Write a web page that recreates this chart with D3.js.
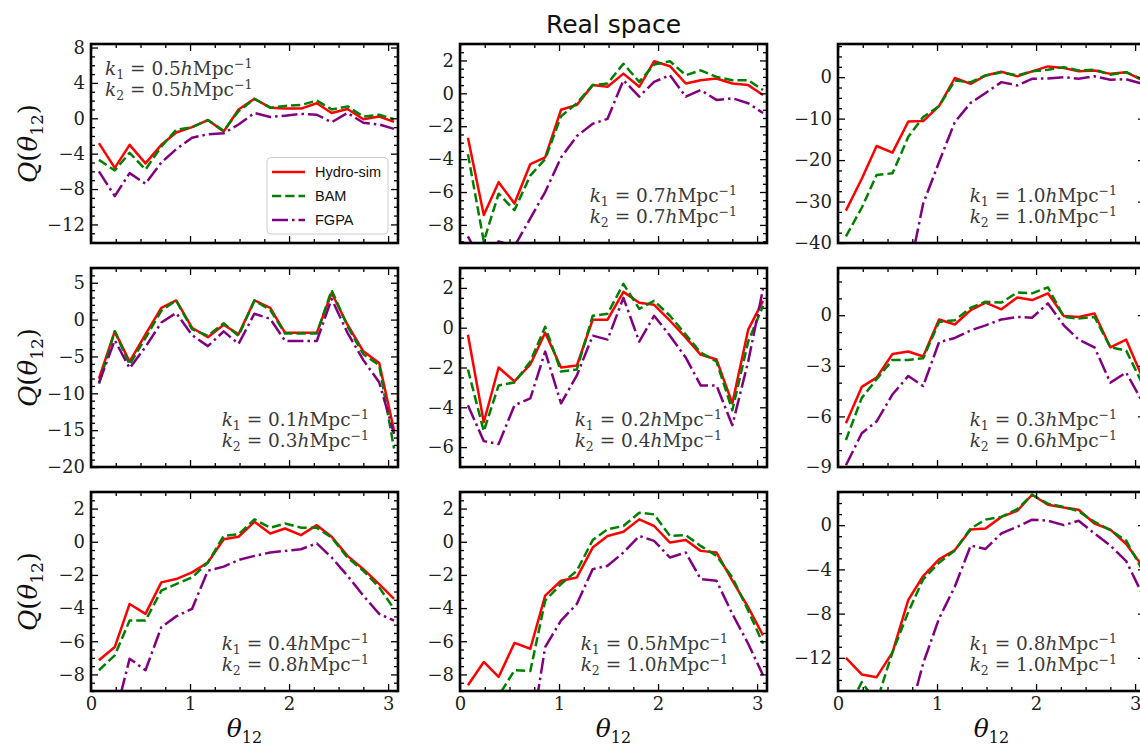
<!DOCTYPE html>
<html>
<head>
<meta charset="utf-8">
<script src="https://cdn.jsdelivr.net/npm/d3@7"></script>
<style>
  body { margin: 0; background: #fff; }
  svg { display: block; }
  .tick text { font-family: "DejaVu Serif", serif; font-size: 18px; fill: #222; }
  .tick line { stroke: #000; stroke-width: 1.3; }
</style>
</head>
<body>
<svg id="chart" width="1140" height="747"></svg>
<script>
// bin centres of the triangle opening angle theta_12
const theta = [0.08, 0.24, 0.39, 0.55, 0.71, 0.86, 1.02, 1.18, 1.34, 1.49,
               1.65, 1.81, 1.96, 2.12, 2.28, 2.43, 2.59, 2.75, 2.91, 3.06];

const seriesNames = ["Hydro-sim", "BAM", "FGPA"];
const k1Values = ["0.5", "0.7", "1.0", "0.1", "0.2", "0.3", "0.4", "0.5", "0.8"];
const k2Values = ["0.5", "0.7", "1.0", "0.3", "0.4", "0.6", "0.8", "1.0", "1.0"];

// reduced bispectrum Q(theta_12), one array per panel and model
const hydro1 = [-2.8, -5.6, -3.0, -5.1, -3.0, -1.6, -1.0, -0.2, -1.5, 1.0, 2.2, 1.2, 1.1, 1.1, 1.7, 0.6, 1.05, -0.1, 0.2, -0.4];
const bam1   = [-4.7, -5.9, -3.9, -5.8, -3.2, -1.3, -1.0, -0.2, -1.4, 0.8, 2.2, 1.2, 1.4, 1.5, 2.0, 1.0, 1.35, 0.2, 0.4, -0.1];
const fgpa1  = [-6.0, -8.8, -6.2, -7.4, -5.0, -3.5, -2.2, -1.8, -1.7, -0.7, 0.6, 0.15, 0.3, 0.5, 0.4, -0.45, 0.6, -0.5, -0.7, -1.2];

const hydro2 = [-2.7, -7.4, -5.4, -6.7, -4.3, -3.9, -1.0, -0.7, 0.5, 0.4, 1.2, 0.4, 1.95, 1.65, 0.6, 0.8, 0.9, 0.6, 0.5, -0.1];
const bam2   = [-3.7, -9.0, -6.1, -7.1, -5.0, -4.0, -1.4, -0.6, 0.5, 0.6, 1.8, 0.7, 1.75, 1.95, 1.1, 1.4, 1.0, 0.8, 0.8, 0.2];
const fgpa2  = [-8.7, -10.5, -9.0, -9.3, -7.6, -6.0, -3.9, -2.6, -1.85, -1.55, 0.8, -0.2, 0.7, 1.1, -0.2, 0.2, -0.4, -0.3, -0.6, -1.2];

const hydro3 = [-32.2, -24.5, -16.6, -18.2, -10.7, -10.6, -7.0, -0.2, -1.6, 0.4, 1.3, 0.2, 1.4, 2.6, 2.2, 1.4, 1.6, 0.8, 1.2, -0.6];
const bam3   = [-38.4, -31.5, -23.6, -23.2, -14.4, -9.6, -7.0, -0.8, -1.2, 0.4, 1.2, 0.4, 1.4, 1.8, 2.4, 1.6, 1.8, 0.6, 1.2, -0.4];
const fgpa3  = [-95, -78, -64, -55, -48, -30.5, -20.5, -10.8, -6.2, -3.8, -1.2, -2.0, -0.4, -0.3, 0.0, -0.4, 0.2, -0.6, -0.5, -1.5];

const hydro4 = [-8.0, -1.6, -5.7, -2.0, 1.6, 2.6, -1.1, -2.4, -0.7, -2.0, 2.6, 1.6, -1.8, -1.8, -1.8, 3.6, -0.7, -4.3, -5.9, -15.0];
const bam4   = [-8.7, -1.6, -6.1, -2.5, 1.2, 2.6, -1.3, -2.2, -0.5, -2.2, 2.6, 1.3, -1.9, -1.9, -1.9, 4.0, -0.9, -4.7, -6.2, -17.5];
const fgpa4  = [-8.6, -2.8, -6.6, -3.7, -0.4, 0.9, -2.1, -3.6, -1.6, -3.3, 0.8, 0.1, -2.9, -2.9, -2.9, 2.8, -1.8, -5.5, -8.5, -15.5];

const hydro5 = [-0.35, -4.75, -2.0, -2.7, -1.85, -0.25, -2.0, -1.9, 0.4, 0.4, 1.8, 1.25, 1.15, 0.35, -0.5, -1.35, -1.6, -3.8, -0.1, 1.35];
const bam5   = [-2.1, -5.2, -2.9, -2.75, -1.7, 0.05, -2.2, -2.1, 0.6, 0.7, 2.2, 0.95, 1.35, 0.6, -0.35, -1.25, -1.7, -4.15, -0.7, 1.1];
const fgpa5  = [-3.9, -5.7, -5.85, -3.9, -3.55, -1.2, -3.8, -2.4, -0.4, -0.6, 1.5, -0.7, 0.6, -0.4, -1.5, -2.9, -2.9, -4.9, -1.7, 1.95];

const hydro6 = [-6.4, -4.25, -3.7, -2.3, -2.15, -2.45, -0.25, -0.55, 0.3, 0.75, 0.35, 1.05, 0.9, 1.3, -0.05, -0.1, 0.1, -1.9, -1.45, -3.5];
const bam6   = [-7.4, -4.9, -3.8, -2.65, -2.65, -2.55, -0.4, -0.3, 0.45, 0.8, 0.75, 1.35, 1.3, 1.65, -0.1, -0.2, -0.1, -1.9, -2.1, -3.9];
const fgpa6  = [-8.9, -7.0, -6.3, -4.7, -3.6, -4.2, -1.6, -1.35, -0.9, -0.6, -0.25, -0.1, -0.15, 0.7, -0.6, -1.45, -1.9, -4.0, -3.4, -5.0];

const hydro7 = [-7.15, -6.35, -3.75, -4.35, -2.45, -2.25, -1.85, -1.25, 0.15, 0.3, 1.2, 0.5, 0.8, 0.4, 1.0, 0.3, -0.85, -1.65, -2.55, -3.45];
const bam7   = [-7.75, -6.85, -4.75, -4.75, -2.95, -2.55, -2.15, -1.25, 0.35, 0.45, 1.35, 0.85, 1.1, 0.85, 0.85, 0.25, -0.95, -1.75, -2.75, -4.05];
const fgpa7  = [-12.0, -10.6, -7.05, -7.75, -5.15, -4.5, -4.05, -1.75, -1.5, -1.1, -0.85, -0.65, -0.55, -0.45, -0.1, -0.95, -2.05, -3.25, -4.35, -4.75];

const hydro8 = [-8.65, -7.25, -8.15, -6.1, -6.45, -3.25, -2.35, -2.15, -0.35, 0.35, 0.6, 1.35, 0.95, -0.05, 0.1, -0.55, -0.65, -2.35, -3.95, -5.65];
const bam8   = [-11.5, -10.5, -9.3, -7.75, -7.8, -3.55, -2.55, -1.75, 0.1, 0.75, 0.95, 1.75, 1.65, 0.35, 0.4, -0.25, -0.85, -2.15, -4.15, -6.15];
const fgpa8  = [-16, -15, -14, -13, -12, -6.35, -4.75, -3.75, -1.65, -1.45, -0.65, 0.35, 0.05, -0.95, -0.65, -2.25, -2.35, -4.35, -6.15, -8.05];

const hydro9 = [-12.0, -13.5, -13.75, -11.5, -6.75, -4.6, -3.1, -2.25, -0.4, -0.3, 0.75, 1.3, 2.75, 1.85, 1.6, 1.4, 0.15, -0.4, -1.7, -3.55];
const bam9   = [-17.0, -14.2, -16.0, -11.5, -7.85, -4.9, -3.4, -2.3, -0.3, 0.5, 0.75, 1.45, 2.75, 1.95, 1.65, 1.25, 0.3, -0.45, -1.4, -3.85];
const fgpa9  = [-30, -27, -24, -21, -17.5, -12.5, -8.45, -5.55, -1.85, -2.15, -0.75, -0.15, 0.5, 0.4, 0.0, 0.4, -0.75, -1.85, -3.25, -6.0];

// y tick labels of each panel
const yTicks1 = [-12, -8, -4, 0, 4, 8];
const yTicks2 = [-8, -6, -4, -2, 0, 2];
const yTicks3 = [-40, -30, -20, -10, 0];
const yTicks4 = [-20, -15, -10, -5, 0, 5];
const yTicks5 = [-6, -4, -2, 0, 2];
const yTicks6 = [-9, -6, -3, 0];
const yTicks7 = [-8, -6, -4, -2, 0, 2];
const yTicks8 = [-8, -6, -4, -2, 0, 2];
const yTicks9 = [-12, -8, -4, 0];
const xTicks = [0, 1, 2, 3];

const panels = [
  { hydro: hydro1, bam: bam1, fgpa: fgpa1, ylim: [-14.1, 8.4], ticks: yTicks1, minor: 1 },
  { hydro: hydro2, bam: bam2, fgpa: fgpa2, ylim: [-9.1, 3], ticks: yTicks2, minor: 0.5 },
  { hydro: hydro3, bam: bam3, fgpa: fgpa3, ylim: [-40, 8], ticks: yTicks3, minor: 2.5 },
  { hydro: hydro4, bam: bam4, fgpa: fgpa4, ylim: [-20, 7], ticks: yTicks4, minor: 1 },
  { hydro: hydro5, bam: bam5, fgpa: fgpa5, ylim: [-7, 3], ticks: yTicks5, minor: 0.5 },
  { hydro: hydro6, bam: bam6, fgpa: fgpa6, ylim: [-9, 2.8], ticks: yTicks6, minor: 1 },
  { hydro: hydro7, bam: bam7, fgpa: fgpa7, ylim: [-9, 3], ticks: yTicks7, minor: 0.5 },
  { hydro: hydro8, bam: bam8, fgpa: fgpa8, ylim: [-9, 3], ticks: yTicks8, minor: 0.5 },
  { hydro: hydro9, bam: bam9, fgpa: fgpa9, ylim: [-15, 3], ticks: yTicks9, minor: 1 }
];

// layout
const W = 307, H = 199;
const colX = [91, 460, 838], rowY = [44, 268, 492];
const xDomain = [0, 3.1];
const labelInset = [0, 30, 28, 29, 45, 28, 29, 39, 28];

const styles = {
  hydro: { color: "#ff0000", dash: null },
  bam:   { color: "#008000", dash: "9.25,4" },
  fgpa:  { color: "#800080", dash: "16,4,2.5,4" }
};

const svg = d3.select("#chart");
const defs = svg.append("defs");
const minus = d => (d < 0 ? "\u2212" + Math.abs(d) : String(d));

// k_1 = 0.5 h Mpc^-1 style label
function kLabel(g, x, y, idx, val, anchor) {
  const t = g.append("text")
    .attr("x", x).attr("y", y)
    .attr("text-anchor", anchor)
    .attr("font-family", "DejaVu Serif, serif")
    .attr("font-size", 18.5)
    .attr("fill", "#3a3a3a");
  t.append("tspan").attr("font-style", "italic").text("k");
  t.append("tspan").attr("font-size", 12.5).attr("dy", 4).text(idx);
  t.append("tspan").attr("dy", -4).text(" = " + val);
  t.append("tspan").attr("font-style", "italic").text("h");
  t.append("tspan").text("Mpc");
  t.append("tspan").attr("font-size", 12.5).attr("dy", -7).text("\u22121");
}

panels.forEach((p, idx) => {
  const col = idx % 3, row = Math.floor(idx / 3);
  const g = svg.append("g").attr("transform", `translate(${colX[col]},${rowY[row]})`);
  const x = d3.scaleLinear().domain(xDomain).range([0, W]);
  const y = d3.scaleLinear().domain(p.ylim).range([H, 0]);

  defs.append("clipPath").attr("id", "clip" + idx)
    .append("rect").attr("width", W).attr("height", H);

  const line = d3.line().x((d, i) => x(theta[i])).y(d => y(d));
  const plot = g.append("g").attr("clip-path", `url(#clip${idx})`);
  ["hydro", "bam", "fgpa"].forEach(key => {
    plot.append("path")
      .datum(p[key])
      .attr("d", line)
      .attr("fill", "none")
      .attr("stroke", styles[key].color)
      .attr("stroke-width", 2.5)
      .attr("stroke-dasharray", styles[key].dash)
      .attr("stroke-linejoin", "round");
  });

  // ticks point inwards on all four sides
  const xMinor = d3.range(0, 3.11, 0.25).filter(v => !xTicks.includes(v));
  const yMinor = d3.range(Math.ceil(p.ylim[0] / p.minor) * p.minor, p.ylim[1] + 1e-9, p.minor)
    .filter(v => !p.ticks.some(t => Math.abs(t - v) < 1e-9));
  const blank = () => "";

  const axes = [
    [d3.axisBottom(x).tickValues(xTicks).tickSize(-7).tickPadding(6).tickFormat(row === 2 ? d3.format("d") : blank), 0, H],
    [d3.axisBottom(x).tickValues(xMinor).tickSize(-4).tickFormat(blank), 0, H],
    [d3.axisTop(x).tickValues(xTicks).tickSize(-7).tickFormat(blank), 0, 0],
    [d3.axisTop(x).tickValues(xMinor).tickSize(-4).tickFormat(blank), 0, 0],
    [d3.axisLeft(y).tickValues(p.ticks).tickSize(-7).tickPadding(6).tickFormat(minus), 0, 0],
    [d3.axisLeft(y).tickValues(yMinor).tickSize(-4).tickFormat(blank), 0, 0],
    [d3.axisRight(y).tickValues(p.ticks).tickSize(-7).tickFormat(blank), W, 0],
    [d3.axisRight(y).tickValues(yMinor).tickSize(-4).tickFormat(blank), W, 0]
  ];
  axes.forEach(([ax, tx, ty]) => {
    g.append("g").attr("transform", `translate(${tx},${ty})`)
      .call(ax)
      .call(a => a.select(".domain").remove());
  });

  g.append("rect")
    .attr("width", W).attr("height", H)
    .attr("fill", "none").attr("stroke", "#000").attr("stroke-width", 2.6);

  if (idx === 0) {
    kLabel(g, 14, 31, "1", k1Values[idx], "start");
    kLabel(g, 14, 52, "2", k2Values[idx], "start");
  } else {
    kLabel(g, W - labelInset[idx], H - 41, "1", k1Values[idx], "end");
    kLabel(g, W - labelInset[idx], H - 20, "2", k2Values[idx], "end");
  }

  // legend in the first panel
  if (idx === 0) {
    const lg = g.append("g").attr("transform", "translate(176,113.5)");
    lg.append("rect").attr("width", 121).attr("height", 76.5).attr("rx", 4)
      .attr("fill", "#fff").attr("fill-opacity", 0.85)
      .attr("stroke", "#ccc").attr("stroke-width", 1);
    ["hydro", "bam", "fgpa"].forEach((key, i) => {
      const ly = 14.5 + i * 24;
      lg.append("line").attr("x1", 5).attr("x2", 38).attr("y1", ly).attr("y2", ly)
        .attr("stroke", styles[key].color).attr("stroke-width", 2.5)
        .attr("stroke-dasharray", styles[key].dash);
      lg.append("text").attr("x", 48).attr("y", ly + 5)
        .attr("font-family", "Liberation Sans, Arial, sans-serif")
        .attr("font-size", 14.5).attr("fill", "#111")
        .text(seriesNames[i]);
    });
  }

  // axis titles
  if (col === 0) {
    const t = svg.append("text")
      .attr("transform", `translate(37,${rowY[row] + H / 2}) rotate(-90)`)
      .attr("text-anchor", "middle")
      .attr("font-family", "DejaVu Serif, serif")
      .attr("font-size", 26).attr("fill", "#111");
    t.append("tspan").attr("font-style", "italic").text("Q");
    t.append("tspan").text("(");
    t.append("tspan").attr("font-style", "italic").text("\u03b8");
    t.append("tspan").attr("font-size", 17).attr("dy", 6).text("12");
    t.append("tspan").attr("dy", -6).text(")");
  }
  if (row === 2) {
    const t = svg.append("text")
      .attr("x", colX[col] + W / 2).attr("y", 737)
      .attr("text-anchor", "middle")
      .attr("font-family", "DejaVu Serif, serif")
      .attr("font-size", 25).attr("fill", "#111");
    t.append("tspan").attr("font-style", "italic").text("\u03b8");
    t.append("tspan").attr("font-size", 16).attr("dy", 6).text("12");
  }
});

svg.append("text")
  .attr("x", colX[1] + W / 2).attr("y", 33)
  .attr("text-anchor", "middle")
  .attr("font-family", "DejaVu Sans, sans-serif")
  .attr("font-size", 25).attr("fill", "#111")
  .text("Real space");
</script>
</body>
</html>
